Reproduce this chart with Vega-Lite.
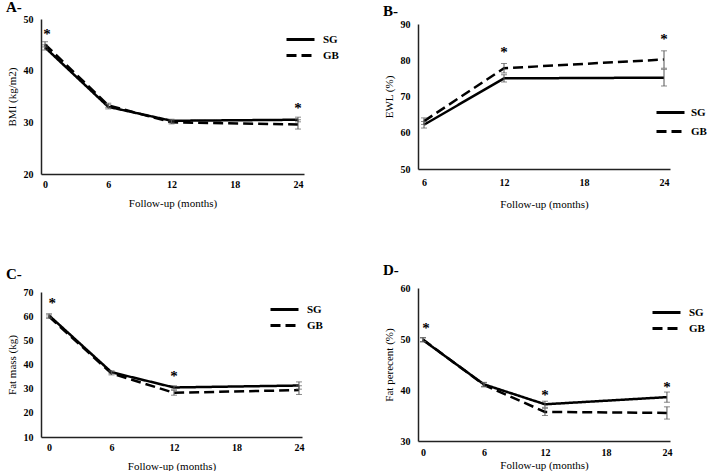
{
  "$schema": "https://vega.github.io/schema/vega-lite/v6.json",
  "padding": {"left": 6, "top": 0, "right": 0, "bottom": 0},
  "background": "white",
  "config": {
    "view": {"stroke": null},
    "font": "Liberation Serif",
    "axis": {
      "grid": false, "ticks": false, "labelOverlap": false, "tickCount": 12,
      "domainColor": "#222", "domainWidth": 1.5,
      "labelFont": "Liberation Serif", "labelFontWeight": "bold", "labelFontSize": 10, "labelColor": "black",
      "titleFont": "Liberation Serif", "titleFontWeight": "normal", "titleFontSize": 11, "titleColor": "black"
    },
    "axisY": {"labelPadding": 8, "titlePadding": 6},
    "axisX": {"labelPadding": 5, "titlePadding": 8},
    "legend": {
      "symbolType": "M-2,0H2", "symbolSize": 196, "symbolStrokeWidth": 3, "symbolStrokeColor": "black", "symbolOffset": 7,
      "labelFont": "Liberation Serif", "labelFontWeight": "bold", "labelFontSize": 11, "labelColor": "black",
      "padding": 0, "labelOffset": 14, "rowPadding": 2
    },
    "title": {"font": "Liberation Serif", "fontSize": 15, "fontWeight": "bold", "color": "black", "anchor": "start", "frame": "bounds"}
  },
  "datasets": {
    "series": [
      {"panel": "A", "group": "SG", "month": 0, "value": 44.5, "lo": 44.0, "hi": 45.0},
      {"panel": "A", "group": "SG", "month": 6, "value": 33.0, "lo": 32.6, "hi": 33.4},
      {"panel": "A", "group": "SG", "month": 12, "value": 30.3, "lo": 30.0, "hi": 30.6},
      {"panel": "A", "group": "SG", "month": 24, "value": 30.5, "lo": 30.1, "hi": 31.0},
      {"panel": "A", "group": "GB", "month": 0, "value": 45.1, "lo": 44.6, "hi": 45.6},
      {"panel": "A", "group": "GB", "month": 6, "value": 33.3, "lo": 32.9, "hi": 33.7},
      {"panel": "A", "group": "GB", "month": 12, "value": 30.0, "lo": 29.7, "hi": 30.3},
      {"panel": "A", "group": "GB", "month": 24, "value": 29.6, "lo": 28.7, "hi": 30.5},
      {"panel": "B", "group": "SG", "month": 6, "value": 62.2, "lo": 61.3, "hi": 63.1},
      {"panel": "B", "group": "SG", "month": 12, "value": 75.0, "lo": 74.0, "hi": 76.0},
      {"panel": "B", "group": "SG", "month": 24, "value": 75.2, "lo": 72.9, "hi": 77.5},
      {"panel": "B", "group": "GB", "month": 6, "value": 63.2, "lo": 62.3, "hi": 64.1},
      {"panel": "B", "group": "GB", "month": 12, "value": 77.8, "lo": 76.5, "hi": 79.1},
      {"panel": "B", "group": "GB", "month": 24, "value": 80.2, "lo": 77.8, "hi": 82.6},
      {"panel": "C", "group": "SG", "month": 0, "value": 60.3, "lo": 59.6, "hi": 61.0},
      {"panel": "C", "group": "SG", "month": 6, "value": 36.8, "lo": 36.2, "hi": 37.4},
      {"panel": "C", "group": "SG", "month": 12, "value": 30.5, "lo": 29.8, "hi": 31.2},
      {"panel": "C", "group": "SG", "month": 24, "value": 31.3, "lo": 29.8, "hi": 32.8},
      {"panel": "C", "group": "GB", "month": 0, "value": 59.8, "lo": 59.1, "hi": 60.5},
      {"panel": "C", "group": "GB", "month": 6, "value": 36.3, "lo": 35.7, "hi": 36.9},
      {"panel": "C", "group": "GB", "month": 12, "value": 28.3, "lo": 27.3, "hi": 29.3},
      {"panel": "C", "group": "GB", "month": 24, "value": 29.4, "lo": 27.6, "hi": 31.2},
      {"panel": "D", "group": "SG", "month": 0, "value": 49.8, "lo": 49.4, "hi": 50.2},
      {"panel": "D", "group": "SG", "month": 6, "value": 41.1, "lo": 40.7, "hi": 41.5},
      {"panel": "D", "group": "SG", "month": 12, "value": 37.2, "lo": 36.6, "hi": 37.8},
      {"panel": "D", "group": "SG", "month": 24, "value": 38.6, "lo": 37.6, "hi": 39.6},
      {"panel": "D", "group": "GB", "month": 0, "value": 49.9, "lo": 49.5, "hi": 50.3},
      {"panel": "D", "group": "GB", "month": 6, "value": 41.0, "lo": 40.6, "hi": 41.4},
      {"panel": "D", "group": "GB", "month": 12, "value": 35.7, "lo": 35.0, "hi": 36.4},
      {"panel": "D", "group": "GB", "month": 24, "value": 35.5, "lo": 34.3, "hi": 36.7}
    ],
    "stars": [
      {"panel": "A", "month": 0.2, "value": 47.5},
      {"panel": "A", "month": 24, "value": 33.2},
      {"panel": "B", "month": 12, "value": 82.7},
      {"panel": "B", "month": 24, "value": 86.4},
      {"panel": "C", "month": 0.3, "value": 66.1},
      {"panel": "C", "month": 12, "value": 36.0},
      {"panel": "D", "month": 0.3, "value": 52.6},
      {"panel": "D", "month": 12, "value": 39.5},
      {"panel": "D", "month": 24, "value": 41.0}
    ]
  },
  "resolve": {"scale": {"strokeDash": "independent"}, "legend": {"strokeDash": "independent"}},
  "spacing": 54,
  "vconcat": [
    {
      "bounds": "flush", "center": true, "spacing": 114,
      "resolve": {"scale": {"strokeDash": "independent"}, "legend": {"strokeDash": "independent"}},
      "hconcat": [
        {
          "width": 263, "height": 155,
          "title": {"text": "A-", "offset": -1},
          "layer": [
            {
              "data": {"name": "series"}, "transform": [{"filter": "datum.panel == 'A'"}],
              "mark": {"type": "line", "strokeWidth": 2.5, "color": "black"},
              "encoding": {
                "x": {"field": "month", "type": "quantitative", "scale": {"domain": [-0.38, 24.57], "nice": false, "zero": false}, "axis": {"values": [0, 6, 12, 18, 24], "tickCount": 12, "title": "Follow-up (months)", "labelOverlap": false}},
                "y": {"field": "value", "type": "quantitative", "scale": {"domain": [20, 50], "nice": false, "zero": false}, "axis": {"values": [20, 30, 40, 50], "tickCount": 12, "title": "BMI (kg/m2)", "labelOverlap": false}},
                "strokeDash": {"field": "group", "type": "nominal", "scale": {"domain": ["SG", "GB"], "range": [[1, 0], [10, 5]]}, "legend": {"orient": "none", "legendX": 244, "legendY": 12, "title": null, "rowPadding": 1}}
              }
            },
            {
              "data": {"name": "series"}, "transform": [{"filter": "datum.panel == 'A'"}],
              "mark": {"type": "errorbar", "ticks": {"size": 6}, "color": "#555"},
              "encoding": {
                "x": {"field": "month", "type": "quantitative", "title": "Follow-up (months)"},
                "y": {"field": "lo", "type": "quantitative", "title": "BMI (kg/m2)"},
                "y2": {"field": "hi"}
              }
            },
            {
              "data": {"name": "stars"}, "transform": [{"filter": "datum.panel == 'A'"}],
              "mark": {"type": "text", "text": "*", "fontSize": 15, "fontWeight": "bold", "font": "Liberation Serif", "baseline": "middle", "dy": 2, "fill": "black"},
              "encoding": {
                "x": {"field": "month", "type": "quantitative", "title": "Follow-up (months)"},
                "y": {"field": "value", "type": "quantitative", "title": "BMI (kg/m2)"}
              }
            }
          ]
        },
        {
          "width": 252, "height": 145,
          "title": {"text": "B-", "offset": 0},
          "layer": [
            {
              "data": {"name": "series"}, "transform": [{"filter": "datum.panel == 'B'"}],
              "mark": {"type": "line", "strokeWidth": 2.5, "color": "black"},
              "encoding": {
                "x": {"field": "month", "type": "quantitative", "scale": {"domain": [5.55, 24.45], "nice": false, "zero": false}, "axis": {"values": [6, 12, 18, 24], "tickCount": 12, "title": "Follow-up (months)", "labelOverlap": false, "labelPadding": 8, "titlePadding": 11}},
                "y": {"field": "value", "type": "quantitative", "scale": {"domain": [50, 90], "nice": false, "zero": false}, "axis": {"values": [50, 60, 70, 80, 90], "tickCount": 12, "title": "EWL (%)", "labelOverlap": false}},
                "strokeDash": {"field": "group", "type": "nominal", "scale": {"domain": ["SG", "GB"], "range": [[1, 0], [10, 5]]}, "legend": {"orient": "none", "legendX": 237, "legendY": 80, "title": null, "rowPadding": 4, "labelOffset": 12}}
              }
            },
            {
              "data": {"name": "series"}, "transform": [{"filter": "datum.panel == 'B'"}],
              "mark": {"type": "errorbar", "ticks": {"size": 6}, "color": "#555"},
              "encoding": {
                "x": {"field": "month", "type": "quantitative", "title": "Follow-up (months)"},
                "y": {"field": "lo", "type": "quantitative", "title": "EWL (%)"},
                "y2": {"field": "hi"}
              }
            },
            {
              "data": {"name": "stars"}, "transform": [{"filter": "datum.panel == 'B'"}],
              "mark": {"type": "text", "text": "*", "fontSize": 15, "fontWeight": "bold", "font": "Liberation Serif", "baseline": "middle", "dy": 2, "fill": "black"},
              "encoding": {
                "x": {"field": "month", "type": "quantitative", "title": "Follow-up (months)"},
                "y": {"field": "value", "type": "quantitative", "title": "EWL (%)"}
              }
            }
          ]
        }
      ]
    },
    {
      "bounds": "flush", "center": true, "spacing": 116,
      "resolve": {"scale": {"strokeDash": "independent"}, "legend": {"strokeDash": "independent"}},
      "hconcat": [
        {
          "width": 261, "height": 145,
          "title": {"text": "C-", "offset": 5},
          "layer": [
            {
              "data": {"name": "series"}, "transform": [{"filter": "datum.panel == 'C'"}],
              "mark": {"type": "line", "strokeWidth": 2.5, "color": "black"},
              "encoding": {
                "x": {"field": "month", "type": "quantitative", "scale": {"domain": [-0.77, 24.29], "nice": false, "zero": false}, "axis": {"values": [0, 6, 12, 18, 24], "tickCount": 12, "title": "Follow-up (months)", "labelOverlap": false}},
                "y": {"field": "value", "type": "quantitative", "scale": {"domain": [10, 70], "nice": false, "zero": false}, "axis": {"values": [10, 20, 30, 40, 50, 60, 70], "tickCount": 12, "title": "Fat mass (kg)", "labelOverlap": false}},
                "strokeDash": {"field": "group", "type": "nominal", "scale": {"domain": ["SG", "GB"], "range": [[1, 0], [10, 5]]}, "legend": {"orient": "none", "legendX": 228, "legendY": 9, "title": null, "rowPadding": 1}}
              }
            },
            {
              "data": {"name": "series"}, "transform": [{"filter": "datum.panel == 'C'"}],
              "mark": {"type": "errorbar", "ticks": {"size": 6}, "color": "#555"},
              "encoding": {
                "x": {"field": "month", "type": "quantitative", "title": "Follow-up (months)"},
                "y": {"field": "lo", "type": "quantitative", "title": "Fat mass (kg)"},
                "y2": {"field": "hi"}
              }
            },
            {
              "data": {"name": "stars"}, "transform": [{"filter": "datum.panel == 'C'"}],
              "mark": {"type": "text", "text": "*", "fontSize": 15, "fontWeight": "bold", "font": "Liberation Serif", "baseline": "middle", "dy": 2, "fill": "black"},
              "encoding": {
                "x": {"field": "month", "type": "quantitative", "title": "Follow-up (months)"},
                "y": {"field": "value", "type": "quantitative", "title": "Fat mass (kg)"}
              }
            }
          ]
        },
        {
          "width": 252, "height": 153,
          "title": {"text": "D-", "offset": 5},
          "layer": [
            {
              "data": {"name": "series"}, "transform": [{"filter": "datum.panel == 'D'"}],
              "mark": {"type": "line", "strokeWidth": 2.5, "color": "black"},
              "encoding": {
                "x": {"field": "month", "type": "quantitative", "scale": {"domain": [-0.49, 24.3], "nice": false, "zero": false}, "axis": {"values": [0, 6, 12, 18, 24], "tickCount": 12, "title": "Follow-up (months)", "labelOverlap": false, "labelPadding": 6, "titlePadding": 2}},
                "y": {"field": "value", "type": "quantitative", "scale": {"domain": [30, 60], "nice": false, "zero": false}, "axis": {"values": [30, 40, 50, 60], "tickCount": 12, "title": "Fat perecent (%)", "labelOverlap": false}},
                "strokeDash": {"field": "group", "type": "nominal", "scale": {"domain": ["SG", "GB"], "range": [[1, 0], [10, 5]]}, "legend": {"orient": "none", "legendX": 233, "legendY": 16, "title": null, "rowPadding": 1}}
              }
            },
            {
              "data": {"name": "series"}, "transform": [{"filter": "datum.panel == 'D'"}],
              "mark": {"type": "errorbar", "ticks": {"size": 6}, "color": "#555"},
              "encoding": {
                "x": {"field": "month", "type": "quantitative", "title": "Follow-up (months)"},
                "y": {"field": "lo", "type": "quantitative", "title": "Fat perecent (%)"},
                "y2": {"field": "hi"}
              }
            },
            {
              "data": {"name": "stars"}, "transform": [{"filter": "datum.panel == 'D'"}],
              "mark": {"type": "text", "text": "*", "fontSize": 15, "fontWeight": "bold", "font": "Liberation Serif", "baseline": "middle", "dy": 2, "fill": "black"},
              "encoding": {
                "x": {"field": "month", "type": "quantitative", "title": "Follow-up (months)"},
                "y": {"field": "value", "type": "quantitative", "title": "Fat perecent (%)"}
              }
            }
          ]
        }
      ]
    }
  ]
}
